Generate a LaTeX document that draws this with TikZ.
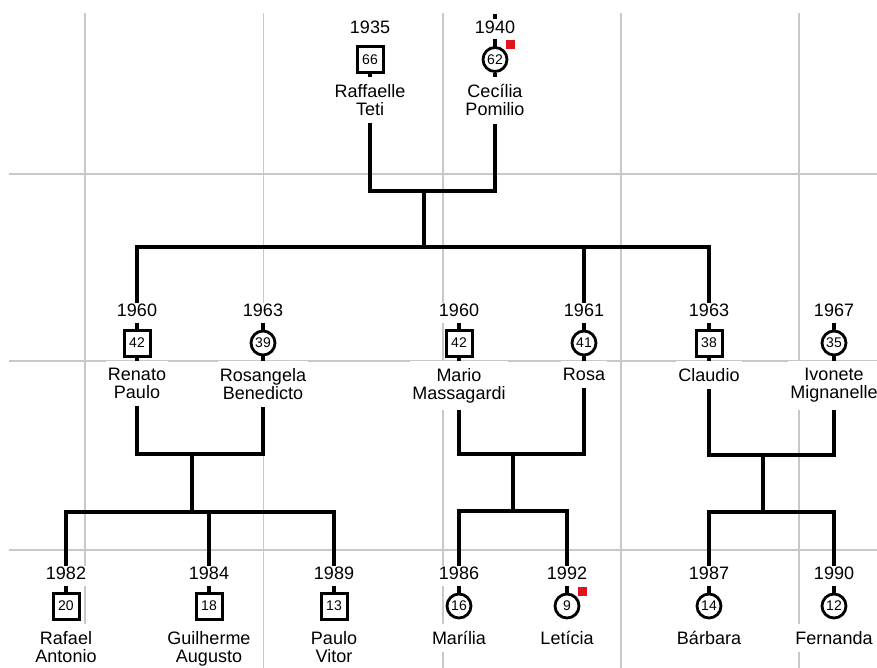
\documentclass[tikz,border=0pt]{standalone}
\usepackage{fontspec}
\setmainfont{Liberation Sans}
\usetikzlibrary{positioning,backgrounds}
\definecolor{gridgray}{RGB}{200,200,200}
\definecolor{markred}{RGB}{225,20,30}

\begin{document}
\begin{tikzpicture}[x=1pt,y=-1pt,
  man/.style={draw,line width=3pt,fill=white,minimum size=26pt,inner sep=0pt,font=\fontsize{14}{16}\selectfont},
  woman/.style={man,circle,line width=2.8pt,minimum size=24pt},
  yr/.style={fill=white,inner sep=1pt,text height=13pt,text depth=5pt,font=\fontsize{18}{18}\selectfont},
  nm/.style={fill=white,align=center,inner xsep=2pt,inner ysep=7.5pt,font=\fontsize{18}{18}\selectfont},
  link/.style={line width=3.2pt},
  gridline/.style={gridgray,line width=1.2pt},
  flag/.style={fill=markred,minimum size=9pt,inner sep=0pt}]
\useasboundingbox (0,0) rectangle (877,668);

% grandparents
\node[man] (raffaelle) at (370,59.5) {66};
\node[yr,above=20pt of raffaelle.center] (raffaelle-y) {1935};
\node[nm,below=17.5pt of raffaelle.center] (raffaelle-n) {Raffaelle\\Teti};
\node[woman] (cecilia) at (495,59.5) {62};
\node[yr,above=20pt of cecilia.center] (cecilia-y) {1940};
\node[nm,below=17.5pt of cecilia.center] (cecilia-n) {Cecília\\Pomilio};
\node[flag] (cecilia-f) at ([xshift=15.5pt,yshift=14.5pt]cecilia.center) {};

% children and spouses
\node[man] (renato) at (137,343) {42};
\node[yr,above=20pt of renato.center] (renato-y) {1960};
\node[nm,below=17.5pt of renato.center] (renato-n) {Renato\\Paulo};
\node[woman] (rosangela) at (263,343) {39};
\node[yr,above=20pt of rosangela.center] (rosangela-y) {1963};
\node[nm,below=17.5pt of rosangela.center] (rosangela-n) {Rosangela\\Benedicto};
\node[man] (mario) at (459,343) {42};
\node[yr,above=20pt of mario.center] (mario-y) {1960};
\node[nm,below=17.5pt of mario.center] (mario-n) {Mario\\Massagardi};
\node[woman] (rosa) at (584,343) {41};
\node[yr,above=20pt of rosa.center] (rosa-y) {1961};
\node[nm,below=17.5pt of rosa.center] (rosa-n) {Rosa};
\node[man] (claudio) at (709,343) {38};
\node[yr,above=20pt of claudio.center] (claudio-y) {1963};
\node[nm,below=17.5pt of claudio.center] (claudio-n) {Claudio};
\node[woman] (ivonete) at (834,343) {35};
\node[yr,above=20pt of ivonete.center] (ivonete-y) {1967};
\node[nm,below=17.5pt of ivonete.center] (ivonete-n) {Ivonete\\Mignanelle};

% grandchildren
\node[man] (rafael) at (66,606) {20};
\node[yr,above=20pt of rafael.center] (rafael-y) {1982};
\node[nm,below=17.5pt of rafael.center] (rafael-n) {Rafael\\Antonio};
\node[man] (guilherme) at (209,606) {18};
\node[yr,above=20pt of guilherme.center] (guilherme-y) {1984};
\node[nm,below=17.5pt of guilherme.center] (guilherme-n) {Guilherme\\Augusto};
\node[man] (paulo) at (334,606) {13};
\node[yr,above=20pt of paulo.center] (paulo-y) {1989};
\node[nm,below=17.5pt of paulo.center] (paulo-n) {Paulo\\Vitor};
\node[woman] (marilia) at (459,606) {16};
\node[yr,above=20pt of marilia.center] (marilia-y) {1986};
\node[nm,below=17.5pt of marilia.center] (marilia-n) {Marília};
\node[woman] (leticia) at (567,606) {9};
\node[yr,above=20pt of leticia.center] (leticia-y) {1992};
\node[nm,below=17.5pt of leticia.center] (leticia-n) {Letícia};
\node[flag] (leticia-f) at ([xshift=15.5pt,yshift=14.5pt]leticia.center) {};
\node[woman] (barbara) at (709,606) {14};
\node[yr,above=20pt of barbara.center] (barbara-y) {1987};
\node[nm,below=17.5pt of barbara.center] (barbara-n) {Bárbara};
\node[woman] (fernanda) at (834,606) {12};
\node[yr,above=20pt of fernanda.center] (fernanda-y) {1990};
\node[nm,below=17.5pt of fernanda.center] (fernanda-n) {Fernanda};

\begin{scope}[on background layer]
% grid
\foreach \gx in {85,263.5,443,621,799}
  \draw[gridline] (\gx,13) -- (\gx,668);
\foreach \gy in {174,361,550}
  \draw[gridline] (9,\gy) -- (877,\gy);

% couples and their children
\coordinate (tt) at (424,191);
\coordinate (ttk) at (424,247);
\draw[link] (raffaelle) |- (tt) -| (cecilia);
\draw[link] (tt) -- (ttk);
\foreach \c in {renato,rosa,claudio}
  \draw[link] (ttk) -| (\c);

\coordinate (rr) at (192,454);
\coordinate (rrk) at (192,512);
\draw[link] (renato) |- (rr) -| (rosangela);
\draw[link] (rr) -- (rrk);
\foreach \c in {rafael,guilherme,paulo}
  \draw[link] (rrk) -| (\c);

\coordinate (mr) at (513,454);
\coordinate (mrk) at (513,511);
\draw[link] (mario) |- (mr) -| (rosa);
\draw[link] (mr) -- (mrk);
\foreach \c in {marilia,leticia}
  \draw[link] (mrk) -| (\c);

\coordinate (ci) at (763,455);
\coordinate (cik) at (763,512);
\draw[link] (claudio) |- (ci) -| (ivonete);
\draw[link] (ci) -- (cik);
\foreach \c in {barbara,fernanda}
  \draw[link] (cik) -| (\c);

% stubs above
\foreach \s in {cecilia,rosangela,mario,ivonete}
  \draw[link] (\s.center) -- ++(0,-22);
\coordinate (cecilia-up) at (495,14);
\draw[link] (cecilia-y.north) -- (cecilia-up);
\end{scope}
\end{tikzpicture}
\end{document}
